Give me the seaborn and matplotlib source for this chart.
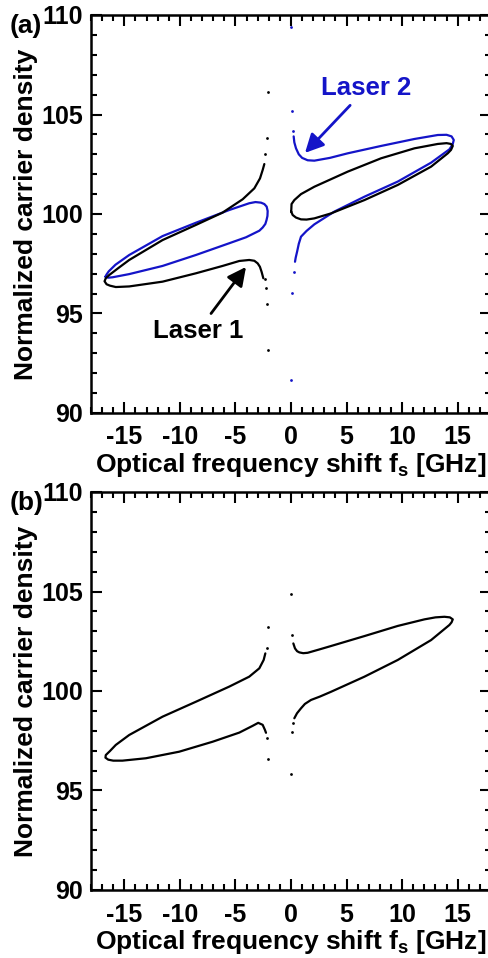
import numpy as np
import pandas as pd
import matplotlib
matplotlib.use("Agg")
import matplotlib.pyplot as plt
from matplotlib.ticker import MultipleLocator
import seaborn as sns

# =========================
# DATA
# =========================
# Panel (a) - Laser 1, left branch (upper end -> left tip -> lower end)
a_l1_left_x = [-2.40, -2.55, -2.79, -3.30, -4.35, -6.16, -8.56, -11.56, -14.56, -15.50, -16.37, -16.67,
               -16.78, -16.60, -16.30, -15.77, -14.56, -11.56, -8.56, -6.16, -4.65, -3.76, -3.30,
               -3.00, -2.80, -2.65, -2.49]
a_l1_left_y = [102.51, 102.21, 101.79, 101.29, 100.74, 100.07, 99.45, 98.69, 97.69, 97.30, 96.93, 96.77,
               96.62, 96.47, 96.40, 96.33, 96.36, 96.60, 97.02, 97.39, 97.64, 97.69, 97.65,
               97.52, 97.35, 97.10, 96.77]
a_l1_dots_x = [-2.31, -2.16, -2.10, -2.34, -2.25, -2.16, -2.10]
a_l1_dots_y = [103.00, 103.84, 106.15, 96.72, 96.27, 95.48, 93.17]

# Panel (a) - Laser 1, right closed loop
a_l1_right_x = [0.02, 0.05, 0.30, 0.90, 2.10, 5.11, 8.11, 11.11, 13.21, 14.00, 14.40, 14.56, 14.40,
                14.11, 12.61, 9.61, 6.61, 3.60, 2.10, 1.40, 0.90, 0.45, 0.15, 0.02]
a_l1_right_y = [100.12, 100.50, 100.70, 101.00, 101.37, 102.13, 102.80, 103.30, 103.52, 103.56, 103.52,
                103.42, 103.22, 103.05, 102.38, 101.46, 100.70, 100.03, 99.78, 99.72, 99.73, 99.82,
                99.95, 100.12]

# Panel (a) - Laser 2, left closed loop
a_l2_left_x = [-16.70, -16.61, -16.40, -15.80, -14.56, -11.56, -8.56, -5.56, -3.76, -3.20, -2.70, -2.40,
               -2.19, -2.10, -2.12, -2.20, -2.31, -2.55, -2.85, -4.05, -5.56, -8.56, -11.56, -14.56,
               -16.06, -16.45, -16.70]
a_l2_left_y = [96.85, 96.95, 97.12, 97.45, 97.94, 98.89, 99.56, 100.20, 100.54, 100.60, 100.57, 100.50,
               100.37, 100.15, 99.90, 99.70, 99.50, 99.32, 99.16, 98.83, 98.53, 97.94, 97.39, 96.98,
               96.82, 96.80, 96.85]

# Panel (a) - Laser 2, right branch (upper end -> right tip -> lower end)
a_l2_right_x = [0.24, 0.30, 0.45, 0.70, 1.00, 1.50, 2.10, 3.50, 5.11, 8.11, 11.11, 13.21, 14.00, 14.45,
                14.65, 14.55, 14.26, 12.61, 9.61, 6.61, 3.90, 2.10, 1.40, 0.90, 0.70, 0.55, 0.42, 0.36]
a_l2_right_y = [103.90, 103.60, 103.30, 103.00, 102.82, 102.70, 102.68, 102.82, 103.05, 103.42, 103.77,
                103.97, 103.98, 103.90, 103.72, 103.50, 103.25, 102.58, 101.63, 100.87, 100.12, 99.48,
                99.15, 98.86, 98.50, 98.11, 97.80, 97.60]
a_l2_dots_x = [0.00, 0.06, 0.15, 0.24, 0.09, 0.00]
a_l2_dots_y = [109.38, 105.18, 104.17, 97.10, 96.01, 91.66]

# Panel (b) - single laser
b_left_x = [-2.31, -2.46, -2.85, -3.76, -5.56, -8.56, -11.56, -14.56, -15.77, -16.30, -16.67, -16.70,
            -16.45, -16.00, -15.17, -13.06, -10.06, -7.06, -4.65, -3.45, -2.95, -2.55, -2.35, -2.25]
b_left_y = [101.89, 101.56, 101.14, 100.72, 100.22, 99.46, 98.71, 97.79, 97.29, 96.98, 96.78, 96.65,
            96.55, 96.50, 96.50, 96.62, 96.95, 97.45, 97.91, 98.25, 98.40, 98.30, 98.05, 97.90]
b_right_x = [0.21, 0.36, 0.55, 0.75, 1.10, 1.50, 2.50, 3.60, 6.61, 9.61, 12.01, 13.00, 13.81, 14.30,
             14.56, 14.45, 14.26, 12.61, 9.61, 6.61, 3.60, 2.60, 1.80, 1.25, 0.90, 0.54, 0.30]
b_right_y = [102.39, 102.14, 102.00, 101.94, 101.90, 101.92, 102.08, 102.26, 102.76, 103.27, 103.60,
             103.70, 103.73, 103.70, 103.60, 103.45, 103.32, 102.56, 101.56, 100.72, 99.96, 99.72,
             99.55, 99.35, 99.13, 98.88, 98.63]
b_dots_x = [-2.19, -2.10, -2.19, -2.10, 0.00, 0.09, 0.18, 0.09, 0.00]
b_dots_y = [102.14, 103.23, 97.62, 96.57, 104.86, 102.81, 98.41, 97.92, 95.83]

BLUE = "#1414c8"

# =========================
# STYLE
# =========================
sns.set_style("ticks")
plt.rcParams["font.family"] = ["Liberation Sans", "DejaVu Sans"]
plt.rcParams["font.weight"] = "bold"
plt.rcParams["axes.unicode_minus"] = False
plt.rcParams["mathtext.fontset"] = "custom"
plt.rcParams["mathtext.rm"] = "Liberation Sans:bold"
plt.rcParams["mathtext.bf"] = "Liberation Sans:bold"
for k in ("text.color", "axes.labelcolor", "xtick.color", "ytick.color", "axes.edgecolor"):
    plt.rcParams[k] = "black"

W, H = 488, 958
fig = plt.figure(figsize=(W / 100, H / 100), dpi=100)
ax_a = fig.add_axes([91 / W, 1 - 413 / H, 400 / W, 398 / H])
ax_b = fig.add_axes([91 / W, 1 - 890 / H, 400 / W, 398 / H])


def linea(ax, x, y, color):
    df = pd.DataFrame({"x": x, "y": y})
    sns.lineplot(data=df, x="x", y="y", ax=ax, sort=False, estimator=None,
                 color=color, lw=1.6)


def puntos(ax, x, y, color):
    df = pd.DataFrame({"x": x, "y": y})
    sns.scatterplot(data=df, x="x", y="y", ax=ax, color=color, s=4,
                    linewidth=0, marker="o")


linea(ax_a, a_l2_left_x, a_l2_left_y, BLUE)
linea(ax_a, a_l2_right_x, a_l2_right_y, BLUE)
puntos(ax_a, a_l2_dots_x, a_l2_dots_y, BLUE)
linea(ax_a, a_l1_left_x, a_l1_left_y, "black")
linea(ax_a, a_l1_right_x, a_l1_right_y, "black")
puntos(ax_a, a_l1_dots_x, a_l1_dots_y, "black")

linea(ax_b, b_left_x, b_left_y, "black")
linea(ax_b, b_right_x, b_right_y, "black")
puntos(ax_b, b_dots_x, b_dots_y, "black")

for ax in (ax_a, ax_b):
    ax.set_xlim(-18, 18)
    ax.set_ylim(90, 110)
    ax.set_xticks([-15, -10, -5, 0, 5, 10, 15])
    ax.set_yticks([90, 95, 100, 105, 110])
    ax.xaxis.set_minor_locator(MultipleLocator(1))
    ax.yaxis.set_minor_locator(MultipleLocator(1))
    ax.tick_params(which="both", direction="in", top=True, right=True, width=1.5, colors="black")
    ax.tick_params(which="major", length=8, labelsize=18)
    ax.tick_params(axis="x", which="major", pad=9)
    ax.tick_params(axis="y", which="major", pad=6)
    ax.tick_params(which="minor", length=4)
    for sp in ax.spines.values():
        sp.set_linewidth(1.8)
        sp.set_color("black")
    ax.set_xlabel(r"Optical frequency shift f$_\mathrm{s}$ [GHz]", fontsize=19, fontweight="bold", labelpad=1)
    ax.set_ylabel("Normalized carrier density", fontsize=19, fontweight="bold", labelpad=2)
    for lab in ax.get_xticklabels() + ax.get_yticklabels():
        lab.set_fontweight("bold")

ax_a.annotate("Laser 1", xy=(-4.05, 97.34), xytext=(-8.38, 94.12), ha="center", va="center",
              fontsize=18.5, fontweight="bold", color="black",
              arrowprops=dict(arrowstyle="-|>", color="black", lw=2, mutation_scale=28, shrinkA=2, shrinkB=0))
ax_a.annotate("Laser 2", xy=(1.26, 103.07), xytext=(6.80, 106.33), ha="center", va="center",
              fontsize=18.5, fontweight="bold", color=BLUE,
              arrowprops=dict(arrowstyle="-|>", color=BLUE, lw=2, mutation_scale=28, shrinkA=2, shrinkB=0))

fig.text(10 / W, 1 - 14 / H, "(a)", ha="left", va="top", fontsize=19, fontweight="bold")
fig.text(10 / W, 1 - 491 / H, "(b)", ha="left", va="top", fontsize=19, fontweight="bold")

fig.savefig("out.png", dpi=100)
